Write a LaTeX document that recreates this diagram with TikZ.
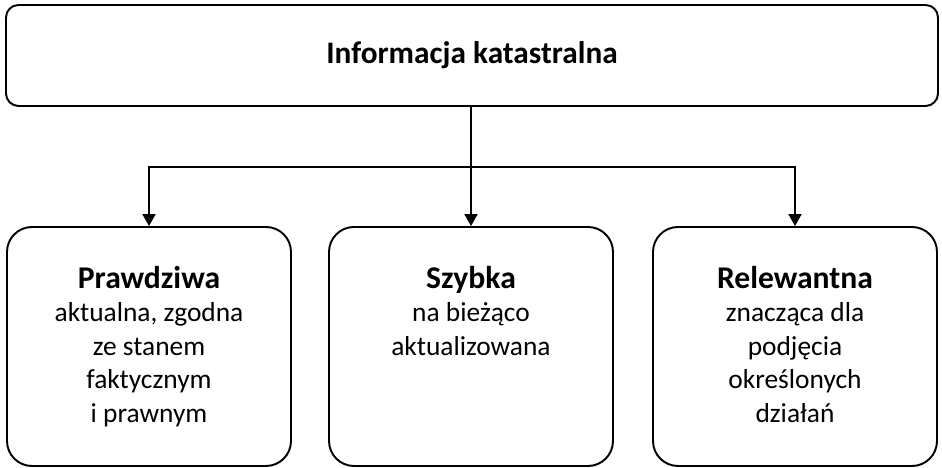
\documentclass[tikz,border=0pt]{standalone}
\usepackage{fontspec}
\setmainfont{Carlito}
\usetikzlibrary{arrows.meta, positioning}
\newcommand{\naglowek}[1]{{\fontsize{18}{19}\selectfont\bfseries #1}}

\begin{document}
\begin{tikzpicture}[
        ramka/.style={draw, line width=1.1pt, rounded corners=0.5cm, minimum width=5.68cm, minimum height=4.78cm},
        opis/.style={inner sep=0pt, align=center, font=\fontsize{15.6}{19}\selectfont},
        strzalka/.style={line width=1.1pt, -{Triangle[width=0.26cm, length=0.24cm]}}
    ]
    \useasboundingbox (0,0) rectangle (18.84,9.36);

    % --- Top box ---
    \node[draw, line width=1.1pt, rounded corners=0.25cm, minimum width=18.64cm, minimum height=2.02cm] (info) at (9.44, 8.25) {};
    \node[font=\fontsize{17.8}{19}\selectfont\bfseries] (tytul) at (info.center) {Informacja katastralna};

    % --- Three features ---
    \node[ramka] (prawdziwa) at (2.98, 2.43) {};
    \node[ramka] (szybka) at (9.42, 2.43) {};
    \node[ramka] (relewantna) at (15.9, 2.43) {};

    \node[opis, below=0.8cm of prawdziwa.north] (opisA) {\naglowek{Prawdziwa}\\aktualna, zgodna\\ze stanem\\faktycznym\\i prawnym};
    \node[opis, below=0.8cm of szybka.north] (opisB) {\naglowek{Szybka}\\na bieżąco\\aktualizowana};
    \node[opis, below=0.8cm of relewantna.north] (opisC) {\naglowek{Relewantna}\\znacząca dla\\podjęcia\\określonych\\działań};

    % --- Connectors ---
    \coordinate (rozgalezienie) at (9.42, 6.02);
    \draw[line width=1.1pt] (info.south -| rozgalezienie) -- (rozgalezienie);
    \foreach \cel in {prawdziwa, szybka, relewantna} {
        \draw[strzalka] (rozgalezienie) -| (\cel.north);
    }
\end{tikzpicture}
\end{document}
